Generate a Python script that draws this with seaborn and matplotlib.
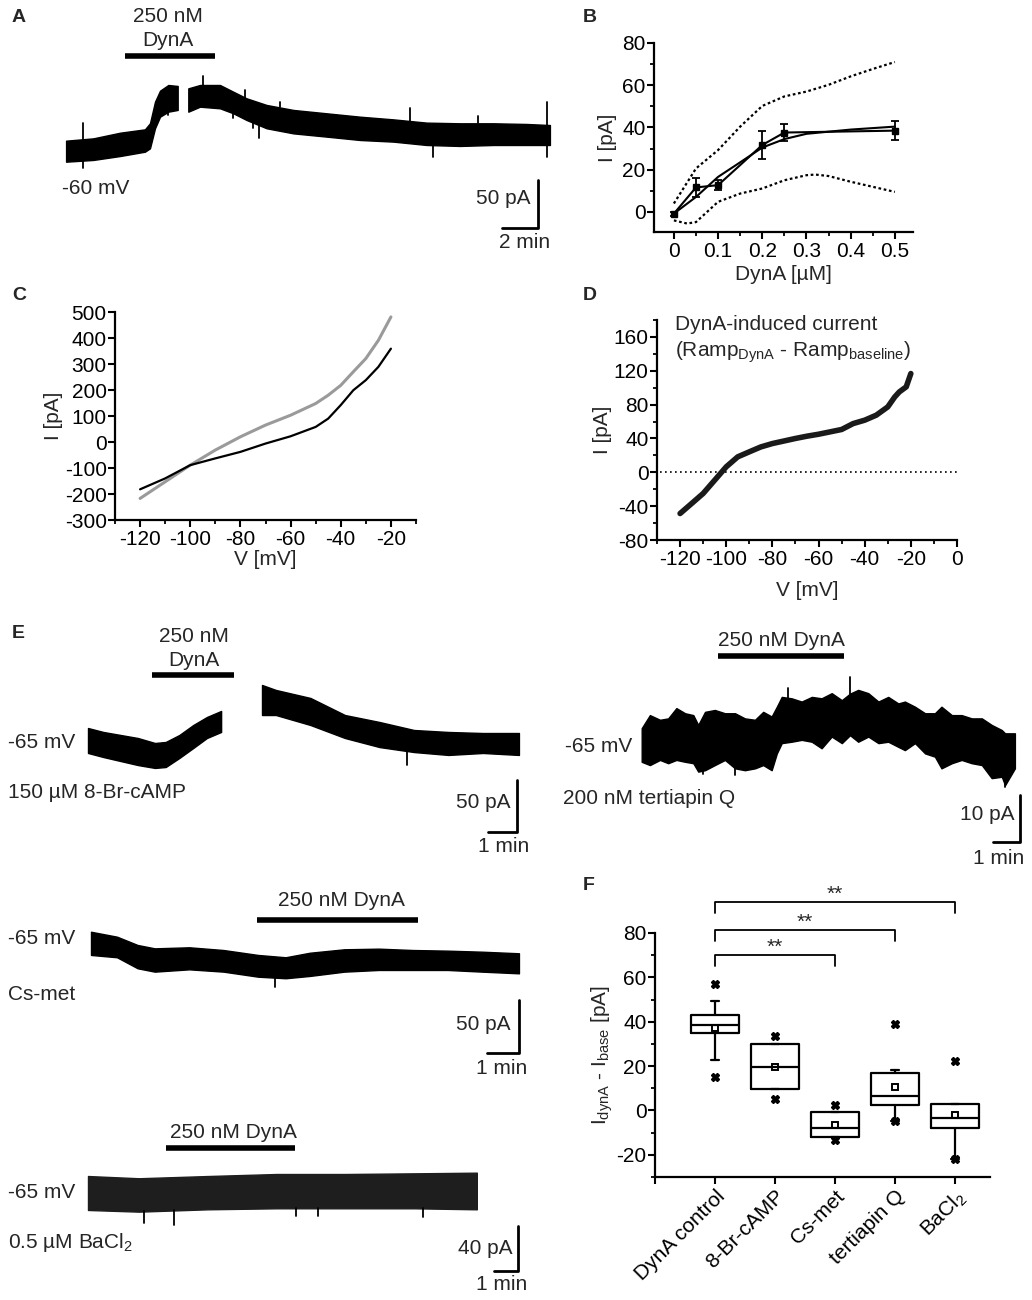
import numpy as np
import pandas as pd
import seaborn as sns
import matplotlib.pyplot as plt
from matplotlib.ticker import MultipleLocator

W, H = 1032, 1300

# ---------------- data ----------------
# A: whole-cell current trace, envelope of the noisy band (min, pA)
a_t1 = [0.06, 1.57, 3.06, 4.44, 4.72, 5.0, 5.28, 5.74, 6.26]
a_hi1 = [11.8, 14.2, 20.1, 23.6, 29.9, 52.4, 63.9, 69.8, 68.8]
a_lo1 = [-10.1, -8.3, -4.2, 0.3, 3.8, 24.7, 36.8, 42, 43.8]
a_t2 = [6.85, 7.5, 8.61, 9.35, 10.09, 11.2, 12.69, 14.54, 16.39, 18.24, 20.09,
        21.94, 23.8, 25.65, 26.94]
a_hi2 = [66.3, 69.8, 69.8, 62.8, 55.9, 49, 43.8, 40.3, 36.8, 34, 30.6,
         29.9, 29.9, 29.2, 28.1]
a_lo2 = [42, 47.2, 45.5, 40.3, 33.3, 24.7, 19.4, 16, 12.5, 10.8, 7.3,
         6.3, 7.3, 7.3, 7.3]
a_spk_t = [0.98, 0.98, 5.74, 7.69, 10.0, 9.35, 10.46, 10.8, 11.94, 19.17, 20.46,
           22.96, 26.8, 26.8]
a_spk_tip = [30.5, -16.7, 38.5, 79.2, 64.6, 35, 24.7, 14.3, 52.4, 45.5, -5.6,
             37.5, 52.4, -5.6]

# B: concentration-response
b_conc = [0, 0.05, 0.1, 0.2, 0.25, 0.5]
b_mean = [-0.8, 11.6, 12.7, 31.7, 37.6, 38.5]
b_err = [1.0, 4.6, 2.4, 6.5, 4.1, 4.6]
b_fit_x = [0, 0.05, 0.1, 0.15, 0.2, 0.25, 0.3, 0.4, 0.5]
b_fit_y = [-0.8, 7.1, 16.6, 23.5, 30.5, 34.5, 37, 39, 40.4]
b_up_x = [0, 0.05, 0.1, 0.15, 0.2, 0.25, 0.3, 0.35, 0.4, 0.45, 0.5]
b_up_y = [4, 20.6, 29.3, 40.4, 50.2, 54.7, 57, 60.2, 64.2, 67.7, 71]
b_lo_x = [0, 0.03, 0.05, 0.075, 0.1, 0.15, 0.2, 0.25, 0.3, 0.32, 0.35, 0.4, 0.45, 0.5]
b_lo_y = [-4, -5.5, -4.8, 0, 4.8, 8.7, 11.1, 15, 17.4, 17.7, 17, 14.3, 11.9, 9.5]

# C: ramp I-V, baseline (black) and DynA (grey)
c_v = [-120, -110, -100, -90, -80, -70, -60, -50, -45, -40, -35, -30, -25, -20]
c_base = [-182, -140, -89, -63, -38, -6, 22, 58, 90, 142, 199, 238, 289, 359]
c_dyna = [-217, -153, -89, -31, 20, 65, 103, 148, 180, 218, 270, 321, 391, 481]

# D: difference current
d_v = [-120, -115, -110, -105, -100, -95, -90, -85, -80, -75, -70, -65, -60,
       -55, -50, -45, -40, -35, -30, -27, -25, -22, -20]
d_i = [-48.7, -36.9, -25, -9.3, 6.5, 18.3, 24.2, 30, 34, 37, 40, 42.7, 45,
       47.8, 50.6, 57.6, 61.6, 67.5, 77.3, 89, 95, 101, 116.7]

# E traces (min, pA)
e1_t1 = [0, 0.53, 1.72, 2.31, 2.68, 3.15, 3.63, 4.1, 4.59]
e1_hi1 = [12, 8.2, 2.4, -2.4, -1.4, 5.3, 14.9, 22.6, 28.4]
e1_lo1 = [-12, -15.9, -23.6, -26.4, -25.5, -16.8, -7.2, 2.4, 8.2]
e1_t2 = [6.0, 6.48, 7.67, 8.86, 10.05, 11.24, 12.43, 13.62, 14.86]
e1_hi2 = [53.4, 48.6, 40.9, 24.5, 17.8, 10.1, 8.2, 7.2, 7.2]
e1_lo2 = [24.5, 24.5, 14.9, 2.4, -6.3, -11.1, -13.9, -12, -13.9]
e1_spk_t, e1_spk_tip = [11.0], [-23.6]

e2_t = [0.00, 0.30, 0.67, 0.97, 1.27, 1.59, 1.89, 2.07, 2.32, 2.68, 3.05, 3.42,
        3.78, 4.15, 4.45, 4.76, 4.95, 5.13, 5.49, 5.86, 6.23, 6.59, 6.96, 7.33,
        7.63, 7.93, 8.30, 8.67, 9.03, 9.40, 9.64, 10.01, 10.38, 10.74, 10.98,
        11.36, 11.72, 12.09, 12.46, 12.82, 13.19, 13.31, 13.67]
e2_hi = [3.6, 6.4, 5.4, 5.7, 7.9, 6.8, 6.4, 4.3, 7.1, 7.5, 6.8, 6.8,
         5.7, 5.4, 7.1, 6.1, 8.2, 10.3, 10.0, 9.3, 10.3, 10.0, 11.1, 9.6,
         11.0, 11.8, 11.1, 9.3, 10.3, 8.9, 9.3, 8.2, 6.8, 6.8, 8.2,
         6.4, 6.4, 5.7, 5.7, 4.3, 3.2, 2.5, 2.5]
e2_lo = [-3.6, -4.3, -3.2, -3.9, -3.2, -3.6, -3.9, -5.7, -5.4, -4.3, -3.2, -5.0,
         -5.4, -5.0, -4.3, -5.4, -1.8, 0.4, 0.7, 1.1, 0.7, -0.7, 1.8, 0.4,
         2.1, 0.7, 1.8, 0.4, 0.7, -0.4, -1.1, 0.4, -1.8, -2.5, -5.0,
         -3.9, -3.2, -3.9, -4.3, -7.1, -6.8, -8.6, -5.0]
e2_spk_t = [7.63, 5.37, 13.3, 2.26, 3.42]
e2_spk_tip = [14.6, 12.3, -8.9, -6.3, -6.4]

e3_t = [0, 0.82, 1.47, 2.01, 3.1, 4.18, 5.27, 6.14, 6.9, 7.99, 9.08, 10.16,
        11.25, 12.34, 13.5]
e3_hi = [11, 6.3, -1.6, -4.8, -3.8, -6.4, -11.1, -13.3, -9, -5.7, -5.1, -6.4,
         -7, -8, -9.5]
e3_lo = [-11.1, -13.3, -23.8, -27, -24.8, -27, -31.8, -33.3, -31.1, -27,
         -25.4, -25.4, -25.4, -27, -28.6]
e3_spk_t, e3_spk_tip = [5.8], [-41.9]

e4_t = [0, 2.12, 5.0, 7.86, 10.7, 13.6, 16.2]
e4_hi = [15.2, 13.2, 15.2, 17, 17, 17.6, 18.2]
e4_lo = [-15.2, -16.7, -14.6, -13.7, -13.7, -13.7, -14.6]
e4_spk_t = [2.33, 3.59, 8.67, 9.58, 13.96]
e4_spk_tip = [-26.6, -28.6, -20.6, -20.6, -21.8]

# F: box statistics
f_groups = ['DynA control', '8-Br-cAMP', 'Cs-met', 'tertiapin Q', r'BaCl$_2$']
f_q1 = [34.7, 9.7, -12, 2.5, -7.7]
f_med = [38.5, 19.7, -7.7, 6.5, -3.5]
f_q3 = [43, 29.8, -0.8, 16.7, 2.9]
f_wlo = [22.7, 9.7, -12, -4.6, -22]
f_whi = [49.4, 29.8, -0.8, 18.2, 2.9]
f_mean = [37.3, 19.7, -6.5, 10.7, -2]
f_min = [14.9, 5.3, -13.3, -4.6, -22]
f_max = [56.9, 33.7, 2.5, 38.8, 22.4]
f_sig_to = [2, 3, 4]
f_sig_y = [70.3, 81.5, 94.2]

# ---------------- style ----------------
FS = 15
sns.set_style('ticks')
plt.rcParams['font.family'] = ['Liberation Sans', 'DejaVu Sans']
plt.rcParams.update({
    'font.size': FS, 'mathtext.default': 'regular', 'axes.unicode_minus': False,
    'axes.linewidth': 1.6, 'axes.labelsize': FS,
    'xtick.labelsize': FS, 'ytick.labelsize': FS,
    'xtick.major.size': 5, 'ytick.major.size': 5,
    'xtick.minor.size': 3, 'ytick.minor.size': 3,
    'xtick.major.width': 1.5, 'ytick.major.width': 1.5,
    'xtick.minor.width': 1.3, 'ytick.minor.width': 1.3,
    'xtick.major.pad': 2, 'ytick.major.pad': 1,
    'xtick.color': 'black', 'ytick.color': 'black',
    'axes.edgecolor': 'black',
})

fig = plt.figure(figsize=(W / 100, H / 100), dpi=100)


def ftext(x, y, s, **kw):
    kw.setdefault('va', 'center')
    fig.text(x / W, 1 - y / H, s, **kw)


def panel_axes(l, t, r, b):
    ax = fig.add_axes([l / W, 1 - b / H, (r - l) / W, (b - t) / H])
    sns.despine(ax=ax)
    return ax


def trace_axes(box, t0px, px_min, y0px, px_pa):
    l, t, r, b = box
    ax = fig.add_axes([l / W, 1 - b / H, (r - l) / W, (b - t) / H])
    ax.set_xlim((l - t0px) / px_min, (r - t0px) / px_min)
    ax.set_ylim((y0px - b) / px_pa, (y0px - t) / px_pa)
    ax.axis('off')
    return ax


def band(ax, t, hi, lo, color='black'):
    ax.fill_between(t, lo, hi, color=color, lw=1.0, edgecolor=color)


def spikes(ax, ts, tips, hi, lo, t):
    # vertical transients, drawn from the band edge out to the tip
    for st, tip in zip(ts, tips):
        top = np.interp(st, t, hi)
        ref = top if tip > top else np.interp(st, t, lo)
        ax.plot([st, st], [ref, tip], color='black', lw=1.3)


def drug_bar(ax, t0, t1, y):
    ax.plot([t0, t1], [y, y], color='black', lw=4, solid_capstyle='butt', clip_on=False)


def scale_bar(ax, tc, pc, dt, dp):
    ax.plot([tc - dt, tc, tc], [pc, pc, pc + dp], color='black', lw=2, clip_on=False)


# ---------------- A ----------------
axA = trace_axes((0, 0, 575, 260), 65, 18, 152, 0.96)
band(axA, a_t1, a_hi1, a_lo1)
band(axA, a_t2, a_hi2, a_lo2)
spikes(axA, a_spk_t, a_spk_tip, a_hi1 + a_hi2, a_lo1 + a_lo2, a_t1 + a_t2)
drug_bar(axA, 3.33, 8.33, 100)
scale_bar(axA, 26.3, -79.2, 2, 50)
ftext(168, 16, '250 nM', ha='center')
ftext(168, 40, 'DynA', ha='center')
ftext(62, 188, '-60 mV', ha='left')
ftext(530, 199, '50 pA', ha='right')
ftext(525, 242, '2 min', ha='center')

# ---------------- B ----------------
axB = panel_axes(654, 43, 913, 232)
sns.lineplot(x=b_up_x, y=b_up_y, ax=axB, color='black', lw=1.6, ls=(0, (1.2, 1.2)))
sns.lineplot(x=b_lo_x, y=b_lo_y, ax=axB, color='black', lw=1.6, ls=(0, (1.2, 1.2)))
sns.lineplot(x=b_fit_x, y=b_fit_y, ax=axB, color='black', lw=1.5)
sns.lineplot(x=b_conc, y=b_mean, ax=axB, color='black', lw=1.5)
axB.errorbar(b_conc, b_mean, yerr=b_err, fmt='s', color='black', ms=4,
             capsize=3, elinewidth=1.3, capthick=1.3)
axB.set_xlim(-0.045, 0.541)
axB.set_ylim(-9.5, 80)
axB.set_xticks([0, 0.1, 0.2, 0.3, 0.4, 0.5])
axB.set_xticklabels(['0', '0.1', '0.2', '0.3', '0.4', '0.5'])
axB.set_yticks([0, 20, 40, 60, 80])
axB.xaxis.set_minor_locator(MultipleLocator(0.05))
axB.yaxis.set_minor_locator(MultipleLocator(10))
axB.set_xlabel('DynA [µM]', labelpad=3)
axB.set_ylabel('I [pA]', labelpad=4)

# ---------------- C ----------------
axC = panel_axes(115, 312, 416, 520)
sns.lineplot(x=c_v, y=c_dyna, ax=axC, color='#9a9a9a', lw=2.2)
sns.lineplot(x=c_v, y=c_base, ax=axC, color='black', lw=1.6)
axC.set_xlim(-130, -10)
axC.set_ylim(-300, 500)
axC.set_xticks(range(-120, 0, 20))
axC.set_yticks(range(-300, 501, 100))
axC.xaxis.set_minor_locator(MultipleLocator(10))
axC.set_xlabel('V [mV]', labelpad=1)
axC.set_ylabel('I [pA]', labelpad=1)

# ---------------- D ----------------
axD = panel_axes(657, 320, 957, 540)
axD.axhline(0, xmin=0.01, xmax=1, color='black', lw=1.2, ls=(0, (1, 2)))
sns.lineplot(x=d_v, y=d_i, ax=axD, color='#1a1a1a', lw=4)
axD.set_xlim(-130, 0)
axD.set_ylim(-80, 180)
axD.set_xticks(range(-120, 1, 20))
axD.set_yticks(range(-80, 161, 40))
axD.xaxis.set_minor_locator(MultipleLocator(10))
axD.yaxis.set_minor_locator(MultipleLocator(20))
axD.set_xlabel('V [mV]', labelpad=9)
axD.set_ylabel('I [pA]', labelpad=1)
ftext(675, 324, 'DynA-induced current', ha='left')
ftext(675, 352, r'(Ramp$_{DynA}$ - Ramp$_{baseline}$)', ha='left')

# ---------------- E ----------------
axE1 = trace_axes((0, 625, 545, 870), 88, 29, 740.5, 1.04)
band(axE1, e1_t1, e1_hi1, e1_lo1)
band(axE1, e1_t2, e1_hi2, e1_lo2)
spikes(axE1, e1_spk_t, e1_spk_tip, e1_hi2, e1_lo2, e1_t2)
drug_bar(axE1, 2.2, 5.03, 63)
scale_bar(axE1, 14.8, -88, 1, 50)
ftext(194, 637, '250 nM', ha='center')
ftext(194, 661, 'DynA', ha='center')
ftext(8, 742, '-65 mV', ha='left')
ftext(8, 793, '150 µM 8-Br-cAMP', ha='left')
ftext(511, 803, '50 pA', ha='right')
ftext(504, 846, '1 min', ha='center')

axE2 = trace_axes((550, 625, 1032, 870), 641.7, 27.3, 745, 4.67)
band(axE2, e2_t, e2_hi, e2_lo)
spikes(axE2, e2_spk_t, e2_spk_tip, e2_hi, e2_lo, e2_t)
drug_bar(axE2, 2.8, 7.41, 19.1)
scale_bar(axE2, 13.86, -20.7, 1, 10)
ftext(781, 640, '250 nM DynA', ha='center')
ftext(565, 747, '-65 mV', ha='left')
ftext(563, 798, '200 nM tertiapin Q', ha='left')
ftext(1015, 815, '10 pA', ha='right')
ftext(999, 858, '1 min', ha='center')

axE3 = trace_axes((0, 880, 545, 1095), 91, 31.7, 943.3, 1.05)
band(axE3, e3_t, e3_hi, e3_lo)
spikes(axE3, e3_spk_t, e3_spk_tip, e3_hi, e3_lo, e3_t)
drug_bar(axE3, 5.25, 10.33, 22.2)
scale_bar(axE3, 13.5, -104.2, 1, 50)
ftext(341, 900, '250 nM DynA', ha='center')
ftext(8, 938, '-65 mV', ha='left')
ftext(8, 995, 'Cs-met', ha='left')
ftext(511, 1024, '50 pA', ha='right')
ftext(502, 1069, '1 min', ha='center')

axE4 = trace_axes((0, 1110, 545, 1300), 88, 24, 1193, 1.117)
band(axE4, e4_t, e4_hi, e4_lo, color='#1e1e1e')
spikes(axE4, e4_spk_t, e4_spk_tip, e4_hi, e4_lo, e4_t)
drug_bar(axE4, 3.26, 8.63, 40.6)
scale_bar(axE4, 17.9, -69.6, 1, 40)
ftext(233, 1132, '250 nM DynA', ha='center')
ftext(8, 1193, '-65 mV', ha='left')
ftext(8, 1243, r'0.5 µM BaCl$_2$', ha='left')
ftext(513, 1249, '40 pA', ha='right')
ftext(502, 1285, '1 min', ha='center')

# ---------------- F ----------------
axF = panel_axes(655, 933, 990, 1177)
stats = []
for i in range(len(f_groups)):
    stats.append(dict(med=f_med[i], q1=f_q1[i], q3=f_q3[i],
                      whislo=f_wlo[i], whishi=f_whi[i], fliers=[]))
axF.bxp(stats, positions=range(len(f_groups)), widths=0.81,
        capwidths=0.14, showfliers=False,
        boxprops=dict(color='black', lw=1.6),
        medianprops=dict(color='black', lw=1.6),
        whiskerprops=dict(color='black', lw=1.6),
        capprops=dict(color='black', lw=1.6))
pos = np.arange(len(f_groups))
axF.plot(pos, f_mean, 's', ms=4.5, mfc='white', mec='black', mew=1.4, ls='none')
axF.plot(pos, f_min, 'X', ms=6, color='black', ls='none')
axF.plot(pos, f_max, 'X', ms=6, color='black', ls='none')
for j, yb in zip(f_sig_to, f_sig_y):
    axF.plot([0, 0, j, j], [yb - 5.2, yb, yb, yb - 5.2], color='black', lw=1.3, clip_on=False)
    axF.text(j / 2, yb + 3.2, '**', ha='center', va='center', fontsize=FS)
axF.set_xlim(-1, 4.58)
axF.set_ylim(-30, 80)
axF.set_yticks(range(-20, 81, 20))
axF.yaxis.set_minor_locator(MultipleLocator(10))
axF.set_xticks(pos)
axF.set_xticks([-1], minor=True)
axF.tick_params(axis='x', which='minor', length=5, width=1.5)
axF.set_xticklabels(f_groups, rotation=45, ha='right', rotation_mode='anchor')
axF.set_ylabel(r'I$_{dynA}$ - I$_{base}$ [pA]', labelpad=1)

# panel letters
for lab, (x, y) in {'A': (12, 18), 'B': (583, 18), 'C': (12, 296), 'D': (583, 296),
                    'E': (12, 633), 'F': (583, 886)}.items():
    ftext(x, y, lab, ha='left', fontsize=14, fontweight='bold')

fig.savefig('out.png', dpi=100)
